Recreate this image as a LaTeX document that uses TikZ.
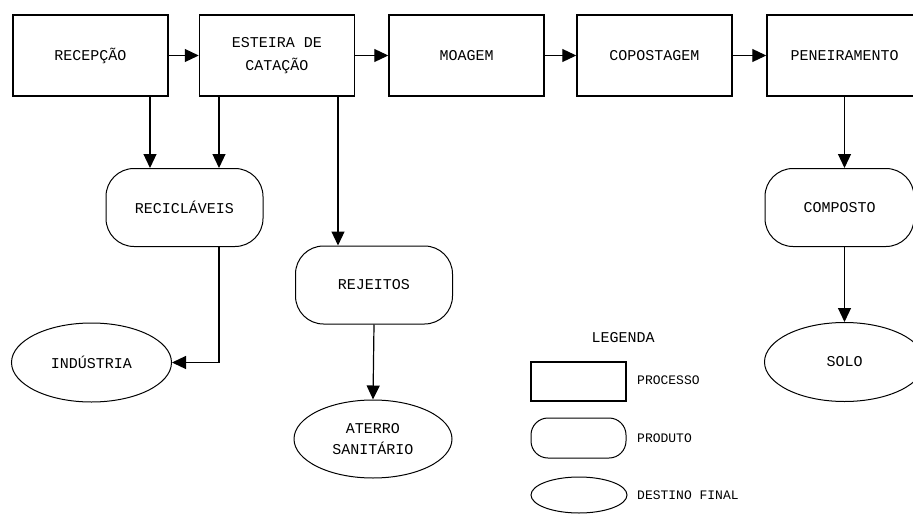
\documentclass[tikz,border=0pt]{standalone}
\usepackage{fontspec}
\setmonofont{Liberation Mono}
\usetikzlibrary{arrows.meta,shapes.geometric}
\tikzset{
	processo/.style={
			draw, line width=1.5pt, rectangle, minimum width=155pt, minimum height=81pt,
			inner sep=0pt, align=center, font=\ttfamily\fontsize{15}{23}\selectfont
		},
	produto/.style={
			draw, line width=1pt, rectangle, rounded corners=28pt, minimum width=157pt,
			minimum height=78pt, inner sep=0pt, align=center, font=\ttfamily\fontsize{15}{23}\selectfont
		},
	destino/.style={
			draw, line width=1pt, ellipse, minimum width=160pt, minimum height=79pt,
			inner sep=0pt, align=center, font=\ttfamily\fontsize{15}{21}\selectfont
		},
	rotulo/.style={anchor=west, inner sep=0pt, font=\ttfamily\fontsize{13}{15}\selectfont},
	seta/.style={line width=1.2pt, -{Triangle[length=14pt,width=13pt]}}
}

\begin{document}
\begin{tikzpicture}[x=1pt, y=-1pt]
		\useasboundingbox (0, 0) rectangle (913, 514);
		\clip (0, 0) rectangle (913, 514);

		% processos
		\node[processo] (rec) at (90.5, 55.5) {RECEPÇÃO};
		\node[processo] (est) at (277, 55.5) {ESTEIRA DE\\CATAÇÃO};
		\node[processo] (moa) at (466.5, 55.5) {MOAGEM};
		\node[processo] (cop) at (654.5, 55.5) {COPOSTAGEM};
		\node[processo] (pen) at (844.5, 55.5) {PENEIRAMENTO};

		% produtos
		\node[produto] (recic) at (184.5, 207.5) {RECICLÁVEIS};
		\node[produto] (rej) at (374, 285) {REJEITOS};
		\node[produto, minimum width=149pt] (comp) at (839.5, 207.5) {COMPOSTO};

		% destinos finais
		\node[destino] (ind) at (91.5, 362.5) {INDÚSTRIA};
		\node[destino, minimum width=158pt, minimum height=78pt] (ate) at (373, 439) {ATERRO\\SANITÁRIO};
		\node[destino] (solo) at (844.5, 362) {SOLO};

		\draw[seta] (rec) -- (est);
		\draw[seta] (est) -- (moa);
		\draw[seta] (moa) -- (cop);
		\draw[seta] (cop) -- (pen);

		\draw[seta] ([xshift=59.5pt]rec.south) -- ([xshift=-34.5pt]recic.north);
		\draw[seta] ([xshift=-58pt]est.south) -- ([xshift=34.5pt]recic.north);
		\draw[seta] ([xshift=61pt]est.south) -- ([xshift=-36pt]rej.north);
		\draw[seta] ([xshift=34.5pt]recic.south) |- (ind.east);
		\draw[seta] (rej.south) -- (ate.north);
		\draw[seta] (pen.south) -- ([xshift=5pt]comp.north);
		\draw[seta] ([xshift=5pt]comp.south) -- (solo.north);

		% legenda
		\node[font=\ttfamily\fontsize{15}{17}\selectfont] (leg) at (623, 338) {LEGENDA};
		\node[processo, minimum width=95pt, minimum height=39pt] (legp) at (578.5, 381.5) {};
		\node[produto, rounded corners=17pt, minimum width=95pt, minimum height=40pt] (legq) at (578.5, 438) {};
		\node[destino, minimum width=96pt, minimum height=36pt] (legd) at (579, 495) {};
		\node[rotulo] (lp) at (637, 380) {PROCESSO};
		\node[rotulo] (lq) at (637, 438) {PRODUTO};
		\node[rotulo] (ld) at (637, 495) {DESTINO FINAL};
	\end{tikzpicture}
\end{document}
